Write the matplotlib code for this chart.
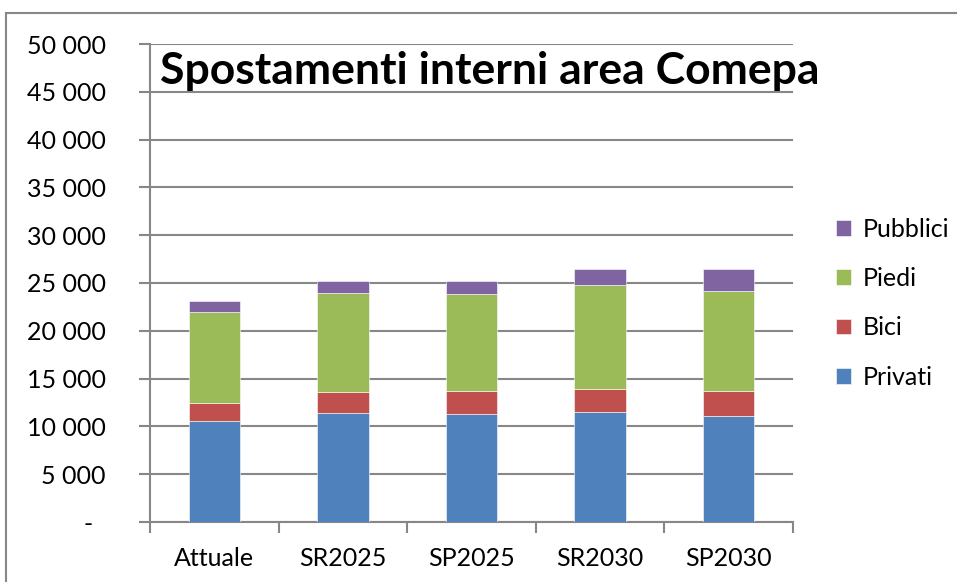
import matplotlib
matplotlib.use('Agg')
import matplotlib.pyplot as plt
from matplotlib.ticker import FuncFormatter, FixedLocator
import numpy as np

categories = ['Attuale', 'SR2025', 'SP2025', 'SR2030', 'SP2030']
privati  = [10520, 11430, 11300, 11540, 11120]
bici     = [1925, 2165, 2435, 2330, 2540]
piedi    = [9480, 10355, 10075, 10950, 10460]
pubblici = [1150, 1255, 1400, 1640, 2340]

series = [('Privati', privati, '#4F81BD'),
          ('Bici', bici, '#C0504D'),
          ('Piedi', piedi, '#9BBB59'),
          ('Pubblici', pubblici, '#8064A2')]

GRID = '#878787'
plt.rcParams.update({'font.family': 'Lato', 'font.size': 18})

fig = plt.figure(figsize=(9.57, 5.82), dpi=100)
ax = fig.add_axes([150/957, 1 - 522/582, 643/957, 478/582])

# outer chart border (top and left edge only visible)
fig.add_artist(plt.Rectangle((6/957, -0.1), 1.2, 1 - 13/582 + 0.1,
                             transform=fig.transFigure, fill=False,
                             edgecolor=GRID, linewidth=1.5))

x = np.arange(len(categories))
bottom = np.zeros(len(categories))
handles = []
for name, vals, col in series:
    b = ax.bar(x, vals, 0.4, bottom=bottom, color=col, label=name,
               edgecolor='white', linewidth=0.4, zorder=3)
    bottom += np.array(vals)
    handles.append(b)

ax.set_ylim(0, 50000)
ax.set_xlim(-0.5, len(categories) - 0.5)
ax.set_yticks(np.arange(0, 50001, 5000))
ax.yaxis.set_major_formatter(FuncFormatter(
    lambda v, p: '-  ' if v == 0 else f'{int(v):,}'.replace(',', ' ')))
ax.grid(axis='y', color=GRID, linewidth=1.5, zorder=0)

ax.set_xticks(x)
ax.set_xticklabels(categories)
ax.xaxis.set_minor_locator(FixedLocator(np.arange(-0.5, len(categories), 1)))
ax.tick_params(axis='x', which='major', length=0, pad=18)
ax.tick_params(axis='x', which='minor', length=8, width=1.5, color=GRID)
ax.tick_params(axis='y', length=8, width=1.5, color=GRID, pad=24)

for s in ['top', 'right']:
    ax.spines[s].set_visible(False)
for s in ['left', 'bottom']:
    ax.spines[s].set_color(GRID)
    ax.spines[s].set_linewidth(1.5)

fig.text(490/957, 1 - 71/582, 'Spostamenti interni area Comepa',
         ha='center', va='center', fontsize=32, fontweight='bold')

leg = ax.legend(handles[::-1], [s[0] for s in series][::-1],
                loc='center left', bbox_to_anchor=(813/957, 0.479),
                bbox_transform=fig.transFigure, frameon=False,
                handlelength=0.6, handleheight=0.6, handletextpad=0.5,
                labelspacing=1.05, fontsize=18)

fig.savefig('out.png', dpi=100)
